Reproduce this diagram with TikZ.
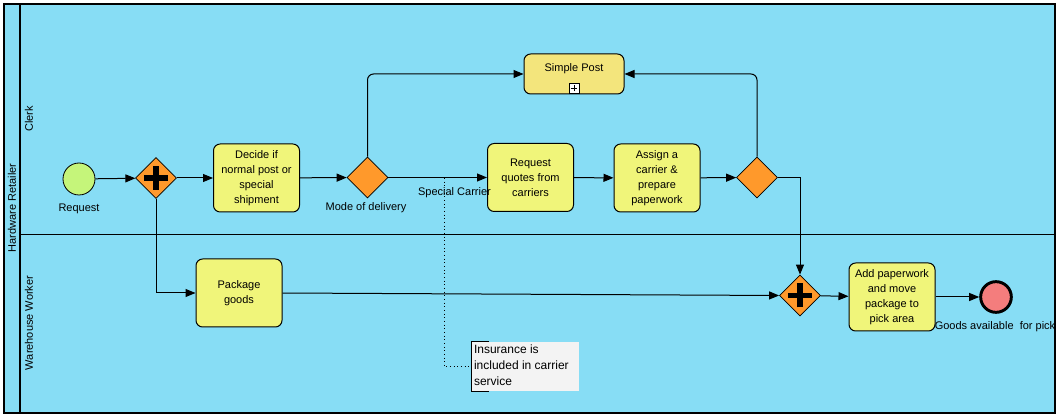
\documentclass[tikz,border=0pt]{standalone}
\usepackage{fontspec}
\setmainfont{Liberation Sans}
\usetikzlibrary{shapes.geometric,arrows.meta}
\definecolor{poolbg}{RGB}{135,221,245}
\definecolor{taskfill}{RGB}{240,245,122}
\definecolor{subfill}{RGB}{243,229,124}
\definecolor{gwfill}{RGB}{255,153,43}
\definecolor{startfill}{RGB}{197,245,122}
\definecolor{endfill}{RGB}{244,125,125}
\definecolor{notefill}{RGB}{243,243,243}
\begin{document}
\begin{tikzpicture}[x=0.75pt,y=-0.75pt,
  every node/.style={font=\fontsize{8.25}{11.25}\selectfont},
  task/.style={draw, line width=0.75pt, rounded corners=5pt, fill=taskfill,
    minimum width=64.5pt, minimum height=51pt, inner sep=0pt, align=center},
  subproc/.style={draw, line width=0.75pt, rounded corners=5pt, fill=subfill,
    minimum width=75pt, minimum height=30pt, inner sep=0pt},
  gw/.style={diamond, aspect=1, draw, line width=0.6pt, fill=gwfill,
    minimum width=30.75pt, minimum height=30.75pt, inner sep=0pt},
  startev/.style={circle, draw, line width=0.6pt, fill=startfill, minimum size=24pt, inner sep=0pt},
  endev/.style={circle, draw, line width=2.2pt, fill=endfill, minimum size=23pt, inner sep=0pt},
  flow/.style={draw, line width=0.75pt, -{Triangle[length=7.5pt,width=6pt]}},
  plusmark/.style={line width=3.8pt},
  assoc/.style={draw, line width=0.75pt, dotted},
  lbl/.style={inner sep=1pt}
]
\useasboundingbox (0,0) rectangle (1058,417);
% pool and lanes
\fill[poolbg] (4,4) rectangle (1055,413);
\draw[line width=1.1pt] (4,4) rectangle (1055,413);
\draw[line width=1.6pt] (20,4) -- (20,413);
\draw[line width=0.75pt] (20,235) -- (1055,235);
\node[rotate=90, lbl] (pool) at (12,208) {Hardware Retailer};
\node[rotate=90, lbl] (lane1) at (29,119) {Clerk};
\node[rotate=90, lbl] (lane2) at (29,323) {Warehouse Worker};

% events
\node[startev] (start) at (79,179) {};
\node[lbl] (lreq) at (79,208.5) {Request};
\node[endev] (end) at (996,297) {};
\node[lbl] (lend) at (995,327) {Goods available\ \ for pick};

% gateways
\node[gw] (g1) at (156,178) {};
\draw[plusmark] ([xshift=-9pt]g1.center) -- ([xshift=9pt]g1.center);
\draw[plusmark] ([yshift=-9pt]g1.center) -- ([yshift=9pt]g1.center);
\node[gw] (mode) at (367.5,177.5) {};
\node[lbl] (lmode) at (366,207.5) {Mode of delivery};
\node[gw] (g3) at (757,177.5) {};
\node[gw] (g2) at (800,295.5) {};
\draw[plusmark] ([xshift=-9pt]g2.center) -- ([xshift=9pt]g2.center);
\draw[plusmark] ([yshift=-9pt]g2.center) -- ([yshift=9pt]g2.center);

% tasks
\node[task] (decide) at (256.5,178) {Decide if\\normal post or\\special\\shipment};
\node[task] (quotes) at (530.5,177.5) {Request\\quotes from\\carriers};
\node[task] (assign) at (657,178) {Assign a\\carrier \&\\prepare\\paperwork};
\node[task] (package) at (239,293) {Package\\goods};
\node[task] (addp) at (892,297) {Add paperwork\\and move\\package to\\pick area};
\node[subproc] (sp) at (574,74) {};
\node[lbl] (sptext) at (574,69) {Simple Post};
\node[draw, line width=0.6pt, fill=white, minimum size=7.5pt, inner sep=0pt] (spmark) at (574,88) {};
\draw[line width=0.6pt] ([xshift=-2.6pt]spmark.center) -- ([xshift=2.6pt]spmark.center);
\draw[line width=0.6pt] ([yshift=-2.6pt]spmark.center) -- ([yshift=2.6pt]spmark.center);

% annotation
\node[fill=notefill, minimum width=80.25pt, minimum height=36.75pt, inner sep=0pt] (note) at (525.5,366.5) {};
\node[anchor=north west, inner sep=0pt, align=left,
  font=\fontsize{9}{12}\selectfont] (notetext) at ([xshift=1.5pt,yshift=-2pt]note.north west)
  {Insurance is\\included in carrier\\service};
\draw[line width=0.75pt] ([xshift=12.75pt]note.north west) -- (note.north west) -- (note.south west) -- ([xshift=12.75pt]note.south west);

% flows
\draw[flow] (start) -- (g1);
\draw[flow] (g1) -- (decide);
\draw[flow] (decide) -- (mode);
\draw[flow] (mode) -- node[pos=0.67, yshift=-11.5pt, lbl] (lsc) {Special Carrier} (quotes);
\draw[flow] (quotes) -- (assign);
\draw[flow] (assign) -- (g3);
\draw[flow, rounded corners=4.5pt] (mode.north) |- (sp.west);
\draw[flow, rounded corners=4.5pt] (g3.north) |- (sp.east);
\draw[flow] (g3.east) -| (g2.north);
\draw[flow] (g1.south) |- (package.west);
\draw[flow] (package.east) -- (g2.west);
\draw[flow] (g2) -- (addp);
\draw[flow] (addp) -- (end);

% association
\coordinate (assocstart) at (444,178);
\draw[assoc] (assocstart) |- (note.west);
\end{tikzpicture}
\end{document}
